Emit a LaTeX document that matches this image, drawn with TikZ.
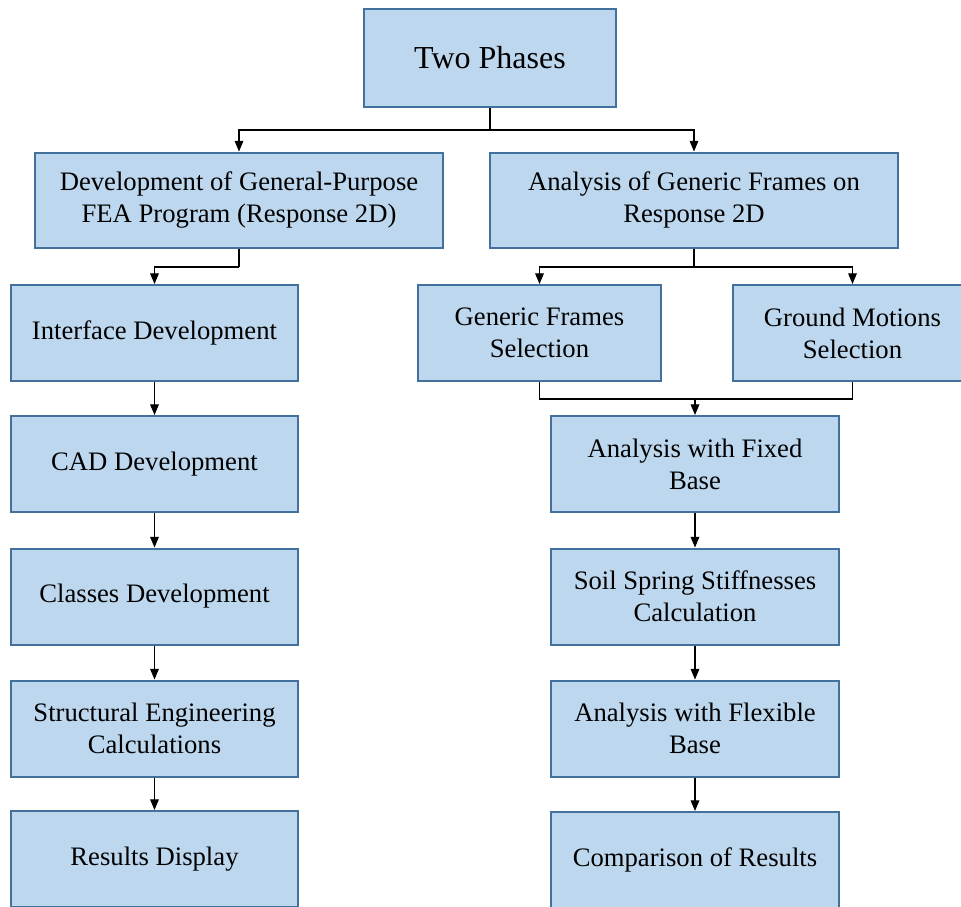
\documentclass[tikz,border=0pt]{standalone}
\usepackage{fontspec}
\setmainfont{Liberation Serif}
\usetikzlibrary{arrows.meta}
\definecolor{boxfill}{HTML}{BDD7EE}
\definecolor{boxline}{HTML}{41719C}

\begin{document}
\begin{tikzpicture}[x=0.75pt,y=-0.75pt,
    box/.style={draw=boxline,fill=boxfill,line width=1.5pt,align=center,inner sep=0pt,font=\fontsize{20}{24}\selectfont},
    leftbox/.style={box,minimum width=215.25pt,minimum height=72pt},
    rightbox/.style={box,minimum width=216pt,minimum height=72pt},
    link/.style={line width=0.9pt,-{Triangle[width=6.5pt,length=8pt]}},
    joint/.style={line width=0.9pt}]
    \useasboundingbox (0,0) rectangle (961,907);
    \node[box,minimum width=189pt,minimum height=73.5pt,font=\fontsize{24}{28}\selectfont] (phases) at (490,58) {Two Phases};
    \node[box,minimum width=306pt,minimum height=71.25pt] (fea) at (239,200) {Development of General-Purpose\\FEA Program (Response 2D)};
    \node[box,minimum width=306pt,minimum height=71.25pt] (generic) at (694,200) {Analysis of Generic Frames on\\Response 2D};
    \node[leftbox] (iface) at (154.5,333) {Interface Development};
    \node[leftbox] (cad) at (154.5,464) {CAD Development};
    \node[leftbox] (classes) at (154.5,596.5) {Classes Development};
    \node[leftbox] (struct) at (154.5,728.5) {Structural Engineering\\Calculations};
    \node[leftbox] (results) at (154.5,859) {Results Display};
    \node[box,minimum width=182.25pt,minimum height=72pt] (framesel) at (539.5,333) {Generic Frames\\Selection};
    \node[box,minimum width=180pt,minimum height=72pt] (motionsel) at (852.5,333) {Ground Motions\\Selection};
    \node[rightbox] (fixed) at (695,464) {Analysis with Fixed\\Base};
    \node[rightbox] (soil) at (695,596.5) {Soil Spring Stiffnesses\\Calculation};
    \node[rightbox] (flexible) at (695,728.5) {Analysis with Flexible\\Base};
    \node[rightbox] (compare) at (695,860) {Comparison of Results};
    \coordinate (split) at (490,130);
    \coordinate (feasplit) at (239,267);
    \coordinate (gensplit) at (694,267);
    \coordinate (merge) at (695,399);
    \draw[joint] (phases) -- (split);
    \draw[link] (split) -| (fea);
    \draw[link] (split) -| (generic);
    \draw[joint] (fea) -- (feasplit);
    \draw[link] (feasplit) -| (iface);
    \draw[link] (iface) -- (cad);
    \draw[link] (cad) -- (classes);
    \draw[link] (classes) -- (struct);
    \draw[link] (struct) -- (results);
    \draw[joint] (generic) -- (gensplit);
    \draw[link] (gensplit) -| (framesel);
    \draw[link] (gensplit) -| (motionsel);
    \draw[joint] (framesel) |- (merge) -| (motionsel);
    \draw[link] (merge) -- (fixed);
    \draw[link] (fixed) -- (soil);
    \draw[link] (soil) -- (flexible);
    \draw[link] (flexible) -- (compare);
\end{tikzpicture}
\end{document}
